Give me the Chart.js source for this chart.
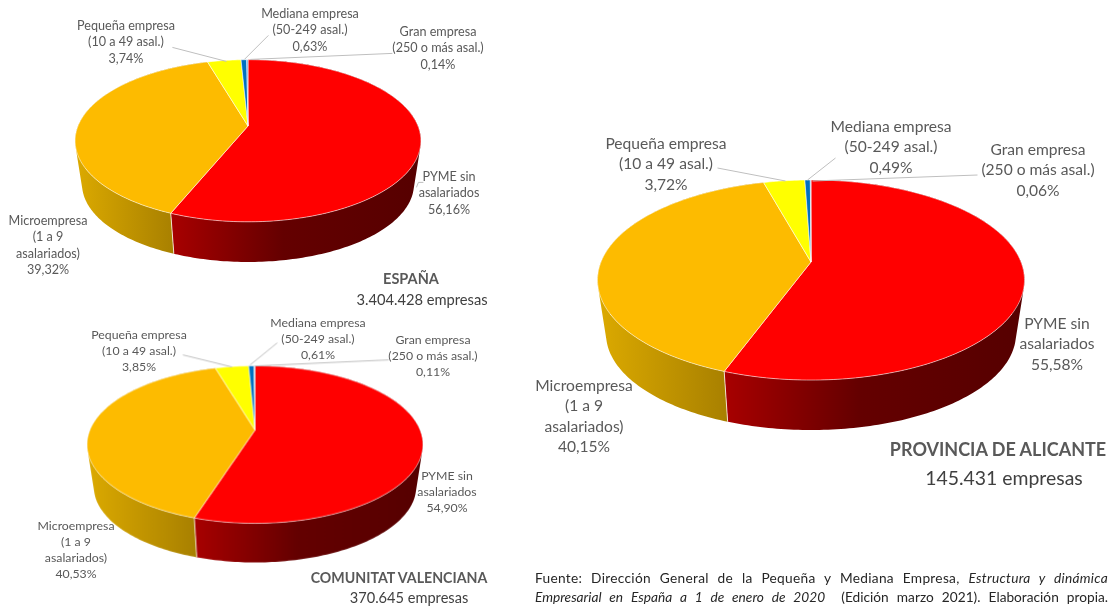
<!DOCTYPE html>
<html lang="es">
<head>
<meta charset="utf-8">
<title>Empresas por tamaño</title>
<script src="https://cdn.jsdelivr.net/npm/chart.js@4"></script>
<style>
  html, body { margin: 0; background: #fff; }
  body { position: relative; width: 1115px; height: 608px; overflow: hidden; font-family: Lato, "Open Sans", sans-serif; color: #595959; }
  canvas { position: absolute; }
  .label { position: absolute; transform: translate(-50%, -50%); text-align: center; white-space: pre; filter: blur(0.3px); }
  #source { position: absolute; left: 535px; top: 568px; width: 573px; font-size: 13.7px; line-height: 19px; color: #262626; white-space: nowrap; filter: blur(0.3px); }
  #source div { text-align: justify; text-align-last: justify; }
  #source div:first-child { letter-spacing: 0.3px; }
</style>
</head>
<body>
<canvas id="spainChart"></canvas>
<canvas id="valenciaChart"></canvas>
<canvas id="alicanteChart"></canvas>
<div id="source">
  <div>Fuente: Dirección General de la Pequeña y Mediana Empresa, <i>Estructura y dinámica</i></div>
  <div><i>Empresarial en España a 1 de enero de 2020</i>&nbsp; (Edición marzo 2021). Elaboración propia.</div>
</div>
<script>
const categories = [
  "PYME sin\nasalariados",
  "Microempresa\n(1 a 9\nasalariados)",
  "Pequeña empresa\n(10 a 49 asal.)",
  "Mediana empresa\n(50-249 asal.)",
  "Gran empresa\n(250 o más asal.)",
]
const spainValues = [56.16, 39.32, 3.74, 0.63, 0.14]
const valenciaValues = [54.9, 40.53, 3.85, 0.61, 0.11]
const alicanteValues = [55.58, 40.15, 3.72, 0.49, 0.06]

const COLORS = ["#ff0000", "#fdbb00", "#ffff00", "#0070c0", "#5b9bd5"]
const WALL_STOPS = [
  [[0, "#a80000"], [0.45, "#640000"], [1, "#560000"]],
  [[0, "#dcaa00"], [1, "#a88000"]],
  [[0, "#b3b300"], [1, "#b3b300"]],
  [[0, "#004f87"], [1, "#004f87"]],
  [[0, "#406d96"], [1, "#406d96"]],
]

// cx, cy = apex of the pie, k = perspective, depth = height of the wall
const spainLayout = {
  cx: 248, cy: 126, r: 170.4, k: 0.182, depth: 44, font: 12.6, lineGap: 16.4,
  labels: [[449, 194], [48, 246], [126, 43], [310, 31], [438, 49]],
  leaders: [[[172, 47], [226, 61]], [[268, 35], [244, 59]], [[392, 53], [250, 59]], [[423, 182], [418, 182], [416, 187]]],
  title: "ESPAÑA", titlePos: [411, 278], titleFont: 14.5,
  total: "3.404.428 empresas", totalPos: [422, 299], totalFont: 14.7,
}
const valenciaLayout = {
  cx: 255, cy: 430, r: 164.6, k: 0.185, depth: 42.7, font: 12.3, lineGap: 16,
  labels: [[447, 492], [76, 550], [139, 351], [318, 339], [433, 356]],
  leaders: [[[183, 355], [232, 367]], [[277, 343], [250, 365]], [[388, 360], [255, 366]]],
  title: "COMUNITAT VALENCIANA", titlePos: [399, 577], titleFont: 14.2,
  total: "370.645 empresas", totalPos: [409, 597], totalFont: 14.6,
}
const alicanteLayout = {
  cx: 810.5, cy: 262, r: 210, k: 0.18, depth: 54.7, font: 15.6, lineGap: 20.3,
  labels: [[1057, 343], [584, 416], [666, 163], [891, 146], [1038, 169]],
  leaders: [[[717, 168], [785, 181]], [[835, 158], [807, 180]], [[977, 175], [812, 181]]],
  title: "PROVINCIA DE ALICANTE", titlePos: [998, 449], titleFont: 18,
  total: "145.431 empresas", totalPos: [1004, 477], totalFont: 19.4,
}

const SQUASH = 0.461
const BOTTOM_SCALE = 0.96
const STEP = Math.PI / 180

// circle angle -> point on the tilted disc
function project(arc, layout, angle, scale, drop) {
  const u = Math.cos(angle)
  const v = Math.sin(angle)
  const d = 1 - layout.k * v
  return {
    x: arc.x + (arc.outerRadius * u * scale) / d,
    y: arc.y + (arc.outerRadius * SQUASH * v * scale) / d + drop,
  }
}

function rimPoints(arc, layout, scale, drop) {
  const pts = []
  for (let a = arc.startAngle; a < arc.endAngle; a += STEP) {
    pts.push(project(arc, layout, a, scale, drop))
  }
  pts.push(project(arc, layout, arc.endAngle, scale, drop))
  return pts
}

function tracePath(ctx, pts) {
  ctx.beginPath()
  pts.forEach((p, i) => (i ? ctx.lineTo(p.x, p.y) : ctx.moveTo(p.x, p.y)))
  ctx.closePath()
}

function signedArea(q) {
  let sum = 0
  q.forEach((p, i) => {
    const n = q[(i + 1) % q.length]
    sum += p.x * n.y - n.x * p.y
  })
  return sum
}

const tiltedPie = {
  id: "tiltedPie",
  beforeDatasetsDraw(chart, args, opts) {
    const ctx = chart.ctx
    const layout = opts.layout
    const arcs = chart.getDatasetMeta(0).data

    // walls first, the top face covers whatever is behind
    arcs.forEach((arc, i) => {
      const top = rimPoints(arc, layout, 1, 0)
      const bottom = rimPoints(arc, layout, BOTTOM_SCALE, layout.depth)
      const xs = top.concat(bottom).filter((p) => p.y > arc.y).map((p) => p.x)
      if (!xs.length) return
      const grad = ctx.createLinearGradient(Math.min(...xs), 0, Math.max(...xs), 0)
      WALL_STOPS[i].forEach((s) => grad.addColorStop(s[0], s[1]))
      // small quads so the sides reach the tangent line between both rims,
      // all wound the same way or the overlaps cancel out when filled
      ctx.beginPath()
      for (let j = 0; j < top.length - 1; j++) {
        const quad = [top[j], top[j + 1], bottom[j + 1], bottom[j]]
        if (signedArea(quad) < 0) quad.reverse()
        quad.forEach((p, n) => (n ? ctx.lineTo(p.x, p.y) : ctx.moveTo(p.x, p.y)))
        ctx.closePath()
      }
      ctx.fillStyle = grad
      ctx.fill()
    })

    // seam between the two visible walls
    const seamTop = project(arcs[0], layout, arcs[0].endAngle, 1, 0)
    const seamBottom = project(arcs[0], layout, arcs[0].endAngle, BOTTOM_SCALE, layout.depth)
    ctx.strokeStyle = "rgba(255,255,255,0.75)"
    ctx.lineWidth = 1
    ctx.beginPath()
    ctx.moveTo(seamTop.x, seamTop.y)
    ctx.lineTo(seamBottom.x, seamBottom.y)
    ctx.stroke()

    arcs.forEach((arc, i) => {
      tracePath(ctx, [{ x: arc.x, y: arc.y }].concat(rimPoints(arc, layout, 1, 0)))
      ctx.fillStyle = COLORS[i]
      ctx.fill()
      ctx.strokeStyle = "rgba(255,255,255,0.6)"
      ctx.lineWidth = 0.9
      ctx.stroke()
    })

    // leader lines, page coordinates shifted into this canvas
    const box = chart.canvas.getBoundingClientRect()
    ctx.strokeStyle = "#bfbfbf"
    ctx.lineWidth = 1
    layout.leaders.forEach((line) => {
      ctx.beginPath()
      line.forEach((p, i) => {
        if (i) ctx.lineTo(p[0] - box.left, p[1] - box.top)
        else ctx.moveTo(p[0] - box.left, p[1] - box.top)
      })
      ctx.stroke()
    })
    return false
  },
}

function addText(text, pos, size, extra) {
  const el = document.createElement("div")
  el.className = "label"
  el.textContent = text
  el.style.left = pos[0] + "px"
  el.style.top = pos[1] + "px"
  el.style.fontSize = size + "px"
  Object.assign(el.style, extra || {})
  document.body.appendChild(el)
}

function drawPie(id, values, layout) {
  const margin = 10
  const side = (layout.r + margin) * 2
  const canvas = document.getElementById(id)
  canvas.style.left = layout.cx - layout.r - margin + "px"
  canvas.style.top = layout.cy - layout.r - margin + "px"
  canvas.width = side
  canvas.height = side
  canvas.style.width = side + "px"
  canvas.style.height = side + "px"

  new Chart(canvas, {
    type: "pie",
    data: {
      labels: categories.map((c) => c.replace(/\n/g, " ")),
      datasets: [{ data: values, backgroundColor: COLORS, borderWidth: 0 }],
    },
    options: {
      responsive: false,
      animation: false,
      layout: { padding: margin },
      plugins: {
        legend: { display: false },
        tooltip: { enabled: false },
        tiltedPie: { layout: layout },
      },
    },
    plugins: [tiltedPie],
  })

  categories.forEach((c, i) => {
    const text = c + "\n" + values[i].toFixed(2).replace(".", ",") + "%"
    addText(text, layout.labels[i], layout.font, { lineHeight: layout.lineGap + "px" })
  })
  addText(layout.title, layout.titlePos, layout.titleFont, { fontWeight: "700" })
  addText(layout.total, layout.totalPos, layout.totalFont, { color: "#404040" })
}

drawPie("spainChart", spainValues, spainLayout)
drawPie("valenciaChart", valenciaValues, valenciaLayout)
drawPie("alicanteChart", alicanteValues, alicanteLayout)
</script>
</body>
</html>
